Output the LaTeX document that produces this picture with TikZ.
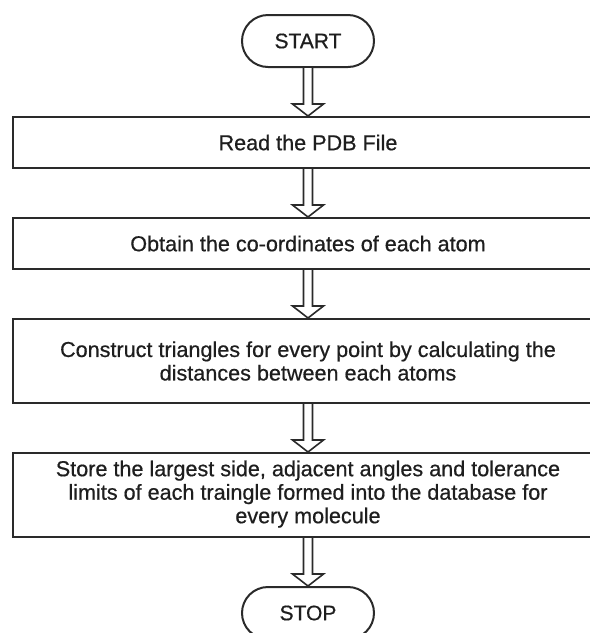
\documentclass[tikz,border=0pt]{standalone}
\usepackage{fontspec}
\setmainfont{Liberation Sans}[FakeBold=0.6]
\usetikzlibrary{calc,shapes.misc}
\definecolor{ink}{HTML}{2A2A2A}
\definecolor{txt}{HTML}{1E1E1E}
\tikzset{
  procbox/.style={draw=ink, line width=2pt, rectangle, minimum width=590pt, inner sep=0pt,
     align=center, text=txt, font=\fontsize{21.6}{23.5}\selectfont},
  termbox/.style={draw=ink, line width=2pt, rounded rectangle, minimum width=132pt,
     minimum height=52pt, inner sep=0pt, text=txt, font=\fontsize{21}{23.5}\selectfont},
  flowarr/.style={draw=ink, line width=1.6pt, fill=white, line join=miter}
}
\newcommand{\hollowarrow}[2]{%
  \draw[flowarr] ($(#1.south)+(-4.5pt,0)$) -- ($(#2.north)+(-4.5pt,12pt)$) -- ++(-11pt,0)
     -- (#2.north) -- ++(15.5pt,12pt) -- ++(-11pt,0) -- ($(#1.south)+(4.5pt,0)$);}
\begin{document}
\begin{tikzpicture}[x=1pt,y=-1pt]
\useasboundingbox (0,0) rectangle (590,633);
\node[termbox] (start) at (308,41) {START};
\node[procbox, minimum height=51pt] (b1) at (308,142.5) {Read the PDB File};
\node[procbox, minimum height=51pt] (b2) at (308,243.5) {Obtain the co-ordinates of each atom};
\node[procbox, minimum height=84pt] (b3) at (308,361) {Construct triangles for every point by calculating the\\distances between each atoms};
\node[procbox, minimum height=84pt] (b4) at (308,495) {\raisebox{-4pt}{\begin{tabular}{@{}c@{}}Store the largest side, adjacent angles and tolerance\\limits of each traingle formed into the database for\\every molecule\end{tabular}}};
\node[termbox] (stop) at (308,613) {STOP};
\hollowarrow{start}{b1}
\hollowarrow{b1}{b2}
\hollowarrow{b2}{b3}
\hollowarrow{b3}{b4}
\hollowarrow{b4}{stop}
\end{tikzpicture}
\end{document}
